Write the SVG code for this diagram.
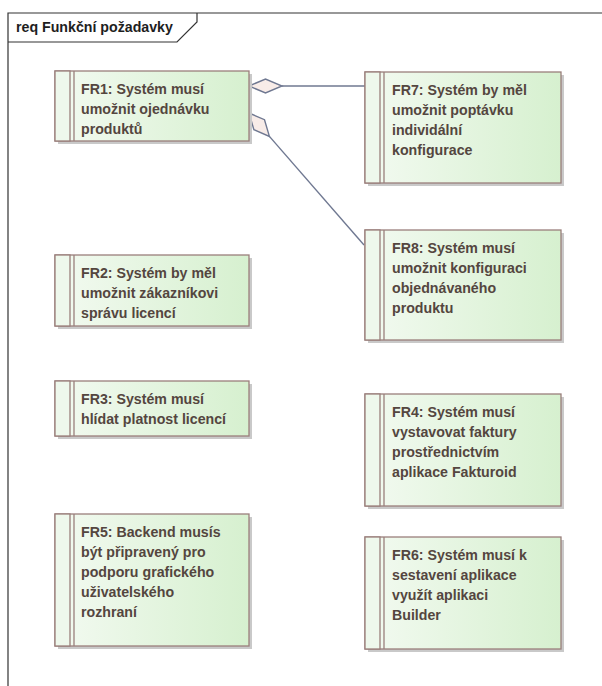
<svg xmlns="http://www.w3.org/2000/svg" width="602" height="686" viewBox="0 0 602 686">
  <defs>
    <linearGradient id="reqFill" x1="0" y1="0" x2="1" y2="0">
      <stop offset="0" stop-color="#f3faf1"/>
      <stop offset="1" stop-color="#d6f0cf"/>
    </linearGradient>
  </defs>
  <style>
    .frame { fill: none; stroke: #333333; stroke-width: 1.2; }
    .title { font-family: "Liberation Sans", Arial, sans-serif; font-size: 14.2px; font-weight: bold; fill: #1e1e1e; }
    .shadow { fill: #c9c9c9; }
    .box { fill: url(#reqFill); stroke: #9a7f7c; stroke-width: 1.3; }
    .stripe { fill: #eef8ec; stroke: #9a7f7c; stroke-width: 1.3; }
    .label { font-family: "Liberation Sans", Arial, sans-serif; font-size: 14.2px; font-weight: bold; fill: #54463f; }
    .conn { fill: none; stroke: #6f7891; stroke-width: 1.4; }
    .diamond { fill: #f8ece8; stroke: #6f7891; stroke-width: 1.4; stroke-linejoin: miter; }
  </style>

  <rect x="0" y="0" width="602" height="686" fill="#ffffff"/>

  <!-- diagram frame with name tab -->
  <g id="frame">
    <path class="frame" d="M8,686 V13 H602"/>
    <path class="frame" d="M8,42 H177 L197,22 V13"/>
    <text class="title" x="16" y="32">req Funkční požadavky</text>
  </g>

  <!-- aggregation connectors -->
  <g id="connectors">
    <line class="conn" x1="282" y1="86" x2="365" y2="86"/>
    <polygon class="diamond" points="249,86 265.5,79 282,86 265.5,93"/>
    <line class="conn" x1="269.4" y1="136.4" x2="364" y2="245"/>
    <polygon class="diamond" points="249,113 264.5,119.7 269.4,136.4 253.9,129.7"/>
  </g>

  <g id="FR1">
    <rect class="shadow" x="58" y="74" width="194" height="70"/>
    <rect class="box" x="55" y="71" width="194" height="70"/>
    <rect class="stripe" x="55" y="71" width="15" height="70"/>
    <line class="box" x1="74" y1="71" x2="74" y2="141"/>
    <text class="label" x="81" y="94">FR1: Systém musí</text>
    <text class="label" x="81" y="114">umožnit ojednávku</text>
    <text class="label" x="81" y="133.5">produktů</text>
  </g>

  <g id="FR2">
    <rect class="shadow" x="58" y="258" width="194" height="71"/>
    <rect class="box" x="55" y="255" width="194" height="71"/>
    <rect class="stripe" x="55" y="255" width="15" height="71"/>
    <line class="box" x1="74" y1="255" x2="74" y2="326"/>
    <text class="label" x="81" y="278">FR2: Systém by měl</text>
    <text class="label" x="81" y="298">umožnit zákazníkovi</text>
    <text class="label" x="81" y="317.5">správu licencí</text>
  </g>

  <g id="FR3">
    <rect class="shadow" x="58" y="384" width="194" height="55"/>
    <rect class="box" x="55" y="381" width="194" height="55"/>
    <rect class="stripe" x="55" y="381" width="15" height="55"/>
    <line class="box" x1="74" y1="381" x2="74" y2="436"/>
    <text class="label" x="81" y="404">FR3: Systém musí</text>
    <text class="label" x="81" y="424">hlídat platnost licencí</text>
  </g>

  <g id="FR5">
    <rect class="shadow" x="58" y="517" width="194" height="132"/>
    <rect class="box" x="55" y="514" width="194" height="132"/>
    <rect class="stripe" x="55" y="514" width="15" height="132"/>
    <line class="box" x1="74" y1="514" x2="74" y2="646"/>
    <text class="label" x="81" y="537">FR5: Backend musís</text>
    <text class="label" x="81" y="557">být připravený pro</text>
    <text class="label" x="81" y="577">podporu grafického</text>
    <text class="label" x="81" y="597">uživatelského</text>
    <text class="label" x="81" y="617">rozhraní</text>
  </g>

  <g id="FR7">
    <rect class="shadow" x="368" y="75" width="196" height="111"/>
    <rect class="box" x="365" y="72" width="196" height="111"/>
    <rect class="stripe" x="365" y="72" width="15" height="111"/>
    <line class="box" x1="384" y1="72" x2="384" y2="183"/>
    <text class="label" x="392" y="95">FR7: Systém by měl</text>
    <text class="label" x="392" y="115">umožnit poptávku</text>
    <text class="label" x="392" y="135">individální</text>
    <text class="label" x="392" y="155">konfigurace</text>
  </g>

  <g id="FR8">
    <rect class="shadow" x="368" y="233" width="196" height="110"/>
    <rect class="box" x="365" y="230" width="196" height="110"/>
    <rect class="stripe" x="365" y="230" width="15" height="110"/>
    <line class="box" x1="384" y1="230" x2="384" y2="340"/>
    <text class="label" x="392" y="253">FR8: Systém musí</text>
    <text class="label" x="392" y="273">umožnit konfiguraci</text>
    <text class="label" x="392" y="293">objednávaného</text>
    <text class="label" x="392" y="313">produktu</text>
  </g>

  <g id="FR4">
    <rect class="shadow" x="368" y="397" width="196" height="112"/>
    <rect class="box" x="365" y="394" width="196" height="112"/>
    <rect class="stripe" x="365" y="394" width="15" height="112"/>
    <line class="box" x1="384" y1="394" x2="384" y2="506"/>
    <text class="label" x="392" y="417">FR4: Systém musí</text>
    <text class="label" x="392" y="437">vystavovat faktury</text>
    <text class="label" x="392" y="457">prostřednictvím</text>
    <text class="label" x="392" y="477">aplikace Fakturoid</text>
  </g>

  <g id="FR6">
    <rect class="shadow" x="368" y="540" width="196" height="112"/>
    <rect class="box" x="365" y="537" width="196" height="112"/>
    <rect class="stripe" x="365" y="537" width="15" height="112"/>
    <line class="box" x1="384" y1="537" x2="384" y2="649"/>
    <text class="label" x="392" y="560">FR6: Systém musí k</text>
    <text class="label" x="392" y="580">sestavení aplikace</text>
    <text class="label" x="392" y="600">využít aplikaci</text>
    <text class="label" x="392" y="620">Builder</text>
  </g>
</svg>
